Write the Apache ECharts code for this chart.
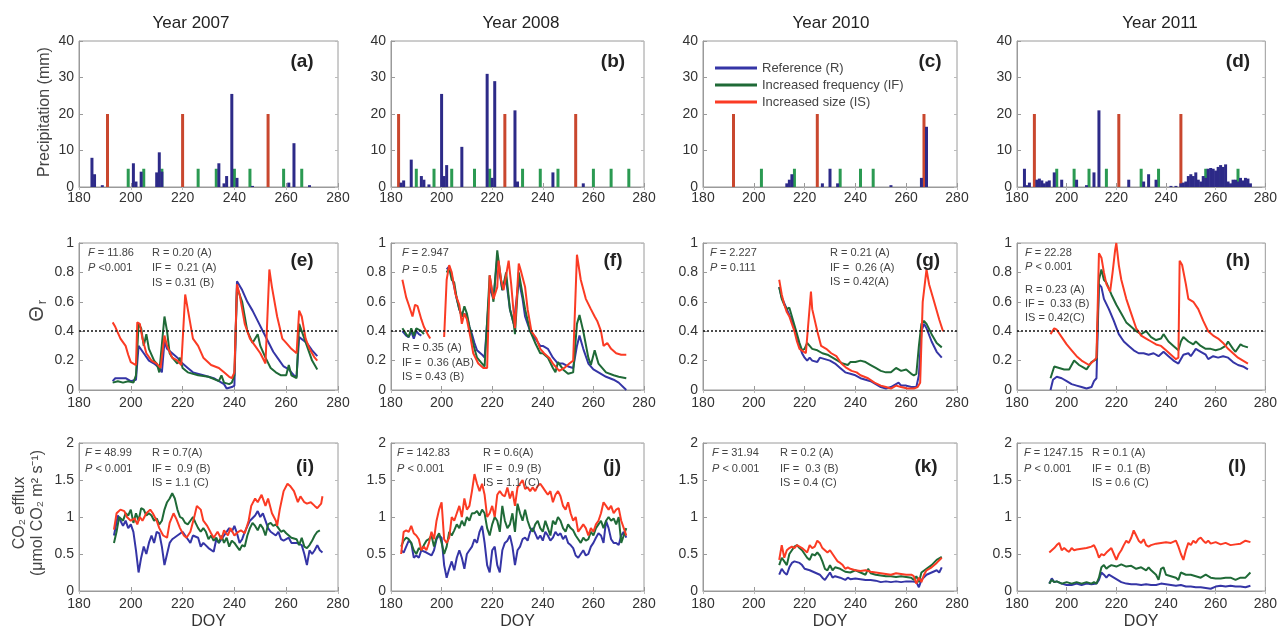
<!DOCTYPE html>
<html>
<head>
<meta charset="utf-8">
<title>Precipitation, relative soil moisture and CO2 efflux</title>
<script src="https://cdn.jsdelivr.net/npm/echarts@6/dist/echarts.min.js"></script>
<style>
  html, body { margin: 0; padding: 0; background: #fff; }
  #chart { width: 1280px; height: 631px; }
</style>
</head>
<body>
<div id="chart"></div>
<script>
// ---- labels ----
const yearLabels = ['Year 2007', 'Year 2008', 'Year 2010', 'Year 2011'];
const panelTags = [['(a)', '(b)', '(c)', '(d)'], ['(e)', '(f)', '(g)', '(h)'], ['(i)', '(j)', '(k)', '(l)']];
const seriesNames = ['Reference (R)', 'Increased frequency (IF)', 'Increased size (IS)'];

// ---- precipitation (mm) by DOY ----
const rainR2007 = [[185,8],[186,3.5],[189,0.5],[201,6.5],[202,1.5],[204,4.2],[210,4],[211,9.5],[212,4.2],[234,6.5],[236,1],[237,3],[239,25.5],[241,2.5],[247,0.3],[261,1.2],[263,12],[269,0.5]];
const rainIF2007 = [[199,5],[205,5],[212,5],[226,5],[233,5],[240,5],[246,5],[259,5],[266,5]];
const rainIS2007 = [[191,20],[220,20],[253,20]];

const rainR2008 = [[184,1.2],[185,1.8],[188,7.5],[192,3],[193,2],[195,0.7],[200,25.5],[201,3],[202,6],[208,11],[218,31],[220,2.5],[221,29],[229,21],[230,1.5],[244,4],[256,1]];
const rainIF2008 = [[190,5],[197,5],[204,5],[213,5],[219,5],[232,5],[239,5],[246,5],[260,5],[267,5],[274,5]];
const rainIS2008 = [[183,20],[225,20],[253,20]];

const rainR2010 = [[213,1],[214,2],[215,3.5],[227,1],[230,5],[233,1],[254,0.5],[266,2.5],[268,16.5]];
const rainIF2010 = [[203,5],[216,5],[234,5],[242,5],[247,5]];
const rainIS2010 = [[192,20],[225,20],[267,20]];

const rainR2011 = [[183,5],[184,0.5],[185,1.2],[188,2],[189,2.3],[190,1.8],[191,1],[192,1.5],[193,1.8],[195,4],[198,2],[204,2],[208,0.5],[211,4],[213,21],[225,2],[231,1.5],[233,3.5],[236,2],[242,0.3],[244,0.3],[246,1],[247,1.2],[248,1.5],[249,3],[250,3.5],[251,3],[252,4],[253,2],[254,1.5],[255,3],[256,2.5],[257,5],[258,5.2],[259,5],[260,4.5],[261,5.5],[262,6],[263,5.5],[264,6.2],[265,1.5],[266,1],[267,2],[268,2],[269,1.5],[270,2.5],[271,1.8],[272,2.5],[273,2.3],[274,1]];
const rainIF2011 = [[196,5],[203,5],[209,5],[216,5],[230,5],[237,5],[256,5],[262,5],[269,5]];
const rainIS2011 = [[187,20],[221,20],[246,20]];

// ---- relative soil moisture (theta r) ----
const thetaR2007 = [[193,0.06],[194,0.08],[196,0.08],[198,0.08],[200,0.06],[202,0.07],[203,0.30],[205,0.25],[207,0.20],[209,0.18],[211,0.15],[212,0.12],[213,0.33],[214,0.28],[216,0.25],[218,0.22],[220,0.18],[222,0.15],[224,0.12],[228,0.10],[232,0.08],[236,0.04],[237,0.01],[239,0.02],[240,0.03],[241,0.74],[243,0.68],[245,0.60],[247,0.54],[249,0.47],[251,0.40],[253,0.33],[255,0.26],[257,0.21],[259,0.16],[261,0.14],[263,0.10],[264,0.09],[265,0.36],[268,0.32],[270,0.27],[272,0.23]];
const thetaIF2007 = [[193,0.05],[195,0.06],[197,0.05],[199,0.06],[201,0.05],[202,0.10],[203,0.45],[204,0.42],[205,0.30],[206,0.38],[207,0.28],[209,0.20],[210,0.18],[211,0.12],[213,0.50],[214,0.40],[215,0.25],[216,0.22],[218,0.18],[219,0.22],[220,0.15],[222,0.12],[226,0.10],[230,0.09],[234,0.06],[235,0.10],[236,0.05],[238,0.04],[239,0.05],[240,0.10],[241,0.70],[243,0.60],[245,0.40],[247,0.32],[249,0.38],[250,0.30],[252,0.22],[254,0.15],[256,0.12],[258,0.10],[260,0.10],[261,0.17],[262,0.10],[264,0.08],[265,0.45],[266,0.40],[268,0.30],[270,0.20],[272,0.14]];
const thetaIS2007 = [[193,0.46],[194,0.43],[196,0.35],[198,0.30],[199,0.24],[200,0.19],[201,0.18],[202,0.17],[202.5,0.46],[203.5,0.45],[204.5,0.35],[206,0.25],[208,0.20],[210,0.18],[211.5,0.15],[213,0.37],[214,0.30],[216,0.22],[218,0.20],[219.5,0.17],[221,0.65],[222,0.55],[224,0.35],[226,0.30],[228,0.22],[231,0.17],[234,0.15],[236,0.12],[238,0.09],[239,0.08],[240,0.12],[241,0.72],[242,0.65],[244,0.45],[246,0.35],[248,0.30],[250,0.25],[252,0.18],[253.5,0.82],[254.5,0.70],[256.5,0.50],[258.5,0.35],[260,0.32],[262,0.28],[264,0.25],[265,0.54],[266,0.50],[267.5,0.35],[269,0.28],[271,0.22],[272,0.20]];

const thetaR2008 = [[184.5,0.40],[186,0.37],[187,0.36],[188,0.40],[189,0.35],[190,0.40],[191,0.38],[192,0.37],[196,'-'],[202,0.82],[203,0.84],[204,0.78],[205,0.70],[206,0.62],[207,0.55],[208,0.50],[209,0.52],[210,0.50],[211,0.43],[212,0.38],[213,0.32],[214,0.27],[216,0.24],[217,0.22],[219,0.70],[220.5,0.62],[222,0.90],[224,0.68],[225.5,0.75],[227,0.55],[228.5,0.45],[230.5,0.75],[232,0.62],[233,0.50],[235,0.40],[237,0.35],[239,0.30],[240,0.30],[242,0.28],[244,0.22],[246,0.18],[248,0.18],[250,0.16],[252,0.15],[253.5,0.30],[254.5,0.37],[256,0.28],[258,0.18],[260,0.14],[262,0.12],[265,0.09],[268,0.07],[270,0.05],[273,0.00]];
const thetaIF2008 = [[184.5,0.42],[186,0.38],[187,0.36],[188,0.42],[189,0.37],[190,0.42],[192,0.40],[193,0.38],[196,'-'],[202,0.80],[203,0.83],[204,0.75],[205,0.73],[206,0.62],[207,0.55],[208,0.50],[209,0.57],[210,0.52],[211,0.43],[212,0.35],[213,0.28],[214,0.22],[216,0.18],[217,0.16],[219,0.78],[220.5,0.60],[222,0.95],[224,0.68],[225.5,0.80],[227,0.55],[228.5,0.45],[229,0.38],[230.5,0.80],[232,0.65],[233,0.55],[235,0.40],[237,0.32],[239,0.25],[240,0.25],[242,0.22],[244,0.15],[245,0.12],[246,0.19],[248,0.14],[250,0.11],[252,0.12],[253.5,0.45],[254.5,0.51],[256,0.40],[258,0.22],[259,0.17],[260.5,0.27],[262,0.18],[265,0.12],[268,0.10],[270,0.09],[273,0.08]];
const thetaIS2008 = [[184.5,0.75],[186,0.63],[187,0.58],[188.5,0.50],[189.5,0.58],[190.5,0.57],[192,0.48],[193,0.43],[194.5,0.38],[195.5,0.35],[198,'-'],[201,0.36],[202,0.75],[203,0.85],[204,0.80],[205.5,0.65],[207,0.58],[208,0.45],[209,0.52],[210,0.48],[211.5,0.35],[212.5,0.25],[214.5,0.18],[216.5,0.15],[218,0.15],[219,0.78],[220.5,0.62],[222,0.70],[222.5,0.88],[223.5,0.75],[224.5,0.68],[226.5,0.88],[227.5,0.72],[229,0.42],[230.5,0.86],[231.5,0.80],[233,0.70],[234,0.55],[235.5,0.40],[237.5,0.35],[239,0.28],[240.5,0.25],[242.5,0.22],[244,0.18],[246.5,0.13],[248.5,0.15],[250.5,0.18],[252,0.20],[253.5,0.92],[255,0.75],[257,0.62],[259,0.55],[260.5,0.50],[261.5,0.47],[263,0.40],[264,0.30],[265.5,0.32],[267,0.28],[269,0.25],[271,0.24],[273,0.24]];

const thetaR2010 = [[210,0.70],[211,0.63],[213,0.55],[215,0.47],[216,0.42],[217,0.35],[218,0.30],[219,0.25],[220,0.22],[221,0.20],[222,0.22],[223,0.20],[225,0.19],[226,0.22],[228,0.21],[230,0.20],[232,0.18],[234,0.15],[236,0.12],[238,0.11],[240,0.10],[242,0.08],[244,0.07],[246,0.06],[248,0.04],[250,0.02],[252,0.01],[254,0.02],[256,0.04],[257,0.05],[258,0.03],[260,0.03],[262,0.02],[264,0.02],[265,0.10],[266,0.40],[267,0.45],[268,0.42],[270,0.33],[272,0.26],[274,0.22]];
const thetaIF2010 = [[210,0.70],[211,0.62],[212,0.58],[213,0.55],[214,0.56],[215,0.50],[216,0.44],[217,0.38],[218,0.32],[219,0.27],[220,0.28],[221,0.32],[222,0.30],[223,0.28],[225,0.27],[227,0.25],[229,0.24],[231,0.22],[233,0.20],[235,0.18],[237,0.17],[238,0.19],[240,0.19],[242,0.20],[244,0.19],[246,0.17],[248,0.15],[250,0.13],[252,0.12],[254,0.12],[256,0.15],[258,0.13],[260,0.14],[262,0.11],[263,0.10],[264,0.11],[265,0.30],[266,0.45],[267,0.47],[268,0.45],[270,0.38],[272,0.32],[274,0.29]];
const thetaIS2010 = [[210,0.75],[211,0.65],[212,0.58],[213,0.53],[214,0.50],[215,0.45],[216,0.40],[217,0.33],[218,0.28],[220.5,0.25],[222.5,0.67],[223,0.55],[225,0.40],[226.5,0.30],[228.5,0.28],[230.5,0.25],[232.5,0.23],[234.5,0.18],[236.5,0.15],[238.5,0.13],[240.5,0.12],[242,0.10],[245,0.08],[247.5,0.05],[250,0.03],[252,0.02],[254,0.01],[256,0.03],[258,0.02],[260.5,0.01],[263,0.01],[264.5,0.02],[265.5,0.05],[266.5,0.60],[268,0.82],[269,0.72],[271,0.60],[273,0.48],[274.5,0.40]];

const thetaR2011 = [[193.5,0.00],[194.5,0.07],[196,0.09],[198,0.08],[200,0.06],[202,0.04],[204,0.03],[206,0.02],[208,0.01],[210,0.02],[211,0.06],[212,0.08],[213,0.72],[214,0.70],[215,0.62],[217,0.55],[219,0.47],[221,0.38],[223,0.33],[225,0.30],[227,0.27],[229,0.25],[231,0.25],[233,0.24],[235,0.25],[237,0.23],[239,0.26],[241,0.23],[243,0.20],[245,0.18],[247,0.24],[249,0.25],[250,0.23],[252,0.28],[254,0.26],[256,0.24],[257,0.21],[259,0.23],[261,0.22],[263,0.23],[265,0.22],[267,0.19],[269,0.17],[271,0.16],[273,0.14]];
const thetaIF2011 = [[193.5,0.08],[195,0.16],[197,0.15],[199,0.14],[201,0.14],[203,0.20],[205,0.17],[207,0.15],[208,0.14],[210,0.19],[212,0.21],[213,0.75],[214,0.82],[215,0.75],[216,0.73],[218,0.65],[220,0.58],[222,0.52],[224,0.46],[226,0.43],[228,0.40],[230,0.38],[232,0.40],[234,0.36],[236,0.34],[238,0.35],[239,0.38],[241,0.33],[243,0.30],[245,0.27],[246,0.33],[247,0.36],[249,0.33],[251,0.31],[252,0.33],[254,0.30],[256,0.28],[258,0.28],[260,0.27],[262,0.28],[264,0.30],[265,0.33],[267,0.28],[268,0.26],[270,0.31],[271,0.30],[273,0.29]];
const thetaIS2011 = [[193.5,0.38],[195,0.42],[196,0.41],[198,0.36],[200,0.31],[202,0.27],[204,0.23],[206,0.20],[209,0.17],[211,0.20],[212,0.22],[213,0.93],[214,0.90],[215,0.80],[216,0.72],[217.5,0.67],[218.5,0.80],[219.5,0.95],[220,1.0],[221,0.85],[222,0.75],[224,0.62],[226,0.52],[228,0.42],[230,0.37],[232,0.35],[234,0.33],[236,0.31],[238,0.30],[240,0.27],[242,0.24],[244,0.21],[245,0.22],[245.5,0.88],[246.5,0.85],[248,0.72],[249,0.62],[251,0.60],[253,0.55],[255,0.47],[257,0.40],[259,0.37],[261,0.35],[263,0.32],[265,0.28],[267,0.25],[269,0.22],[271,0.20],[273,0.18]];

// ---- CO2 efflux (umol CO2 m-2 s-1) ----
const co2R2007 = [[193.5,0.75],[195,1.02],[196,0.95],[197,0.88],[198,0.95],[199,0.85],[200,0.90],[201,0.80],[202,0.55],[203,0.25],[204,0.45],[205,0.60],[206,0.50],[207,0.65],[208,0.75],[209,0.65],[210,0.80],[211,0.78],[212,0.60],[213,0.35],[214,0.50],[215,0.65],[216,0.70],[218,0.75],[220,0.80],[222,0.70],[223,0.65],[224,0.75],[226,0.72],[227,0.60],[228,0.65],[230,0.58],[232,0.53],[233,0.70],[234,0.65],[236,0.75],[238,0.85],[239,0.80],[240,0.88],[241,0.78],[242,0.65],[243,0.70],[244,0.80],[246,0.95],[248,1.02],[249,1.08],[250,1.0],[251,1.05],[252,0.95],[253,0.85],[254,0.80],[256,0.75],[257,0.80],[258,0.70],[259,0.68],[261,0.72],[262,0.65],[264,0.65],[266,0.62],[267,0.50],[268,0.35],[269,0.55],[270,0.50],[271,0.55],[272,0.62],[273,0.55],[274,0.52]];
const co2IF2007 = [[193.5,0.65],[194.5,0.80],[195.5,1.0],[197,0.95],[198,1.05],[199,1.02],[200,1.10],[201,0.92],[202,1.05],[203,0.95],[204,1.12],[205,1.10],[206,1.02],[207,1.05],[208,1.02],[209,0.95],[210,0.98],[211,0.90],[212,0.95],[213,1.10],[214,1.20],[215,1.25],[216,1.32],[217,1.25],[218,1.10],[219,1.0],[220,0.98],[221,0.92],[222,0.90],[223,0.95],[224,1.0],[225,0.92],[226,0.85],[227,0.80],[228,0.85],[229,0.80],[230,0.70],[231,0.75],[232,0.68],[233,0.72],[234,0.65],[235,0.75],[236,0.65],[237,0.72],[238,0.60],[239,0.68],[240,0.65],[241,0.60],[242,0.55],[243,0.62],[244,0.60],[245,0.75],[246,0.85],[247,0.92],[248,0.88],[249,0.82],[250,0.90],[251,0.85],[252,0.75],[253,0.90],[254,0.92],[255,0.88],[256,0.90],[257,0.85],[258,0.80],[259,0.82],[260,0.78],[262,0.72],[264,0.70],[265,0.62],[266,0.72],[267,0.60],[268,0.58],[269,0.62],[270,0.68],[271,0.75],[272,0.80],[273,0.82]];
const co2IS2007 = [[193.5,0.83],[194.5,1.05],[196,1.10],[197.5,1.08],[198.5,1.00],[200,0.95],[201.5,0.98],[202.5,0.90],[203.5,1.0],[204.5,0.95],[206,1.05],[207.5,1.10],[208.5,1.05],[210,0.95],[211,0.85],[212.5,0.75],[214,0.72],[215,0.92],[216.5,1.05],[217.5,0.98],[219,0.85],[220.5,0.75],[221.5,0.72],[223,0.80],[224.5,1.0],[225.5,1.15],[227,1.10],[228,0.95],[229.5,0.88],[231,0.78],[232,0.72],[233.5,0.80],[235,0.70],[236,0.82],[237.5,0.75],[238.5,0.85],[240,0.75],[241.5,0.80],[242.5,0.82],[244,0.78],[245.5,0.95],[246.5,1.15],[248,1.25],[249,1.20],[250.5,1.30],[252,1.15],[253,1.25],[254.5,1.05],[256,0.95],[256.5,0.88],[257.5,1.10],[259,1.35],[260.5,1.45],[261.5,1.42],[263,1.35],[264.5,1.20],[265.5,1.28],[267,1.20],[268,1.18],[269.5,1.20],[271,1.15],[272,1.12],[273.5,1.18],[274,1.28]];

const co2R2008 = [[184,0.55],[185,0.52],[186,0.60],[187,0.68],[188,0.65],[189,0.45],[190,0.48],[191,0.45],[192,0.55],[194,0.52],[196,0.48],[197,0.55],[198,0.70],[199,0.75],[200,0.72],[201,0.35],[202,0.18],[203,0.30],[204,0.40],[205,0.28],[206,0.45],[207,0.55],[208,0.45],[209,0.30],[210,0.50],[211,0.55],[212,0.60],[213,0.70],[214,0.65],[215,0.80],[216,0.88],[217,0.65],[218,0.35],[219,0.25],[220,0.55],[221,0.60],[222,0.35],[223,0.25],[224,0.55],[225,0.65],[226,0.68],[227,0.75],[228,0.60],[229,0.35],[230,0.55],[231,0.60],[232,0.70],[233,0.72],[234,0.68],[235,0.80],[236,0.85],[237,0.78],[238,0.70],[239,0.75],[240,0.68],[241,0.80],[242,0.75],[243,0.68],[244,0.72],[245,0.80],[246,0.75],[247,0.78],[248,0.70],[249,0.75],[250,0.65],[251,0.62],[252,0.58],[253,0.48],[254,0.45],[255,0.50],[256,0.55],[257,0.48],[258,0.50],[259,0.60],[260,0.65],[261,0.72],[262,0.78],[263,0.75],[264,0.65],[265,0.95],[266,0.85],[267,0.70],[268,0.65],[269,0.65],[270,0.62],[271,0.75],[272,0.80],[273,0.72]];
const co2IF2008 = [[184,0.60],[185,0.68],[186,0.72],[187,0.70],[188,0.65],[189,0.55],[190,0.50],[191,0.58],[192,0.55],[193,0.62],[194,0.68],[195,0.70],[196,0.75],[197,0.60],[198,0.72],[199,0.78],[200,0.65],[201,0.50],[202,0.60],[203,0.80],[204,0.75],[205,0.82],[206,0.90],[207,0.85],[208,0.95],[209,0.88],[210,1.0],[211,0.95],[212,1.05],[213,1.05],[214,1.08],[215,1.02],[216,1.10],[217,1.05],[218,0.85],[219,0.75],[220,0.90],[221,1.0],[222,0.95],[223,0.80],[224,1.15],[225,0.95],[226,0.85],[227,0.90],[228,1.05],[229,0.80],[230,1.18],[231,1.05],[232,0.95],[233,1.10],[234,0.95],[235,0.85],[236,0.80],[237,0.90],[238,0.95],[239,0.85],[240,0.80],[241,0.95],[242,0.85],[243,0.75],[244,0.95],[245,0.90],[246,1.0],[247,0.95],[248,0.85],[249,0.80],[250,0.90],[251,0.85],[252,0.82],[253,0.75],[254,0.70],[255,0.65],[256,0.72],[257,0.68],[258,0.70],[259,0.80],[260,0.75],[261,0.85],[262,0.90],[263,0.95],[264,0.85],[265,0.95],[266,1.0],[267,0.95],[268,0.98],[269,0.90],[270,1.0],[271,0.65],[272,0.75],[273,0.85]];
const co2IS2008 = [[184,0.50],[185,0.80],[186,0.82],[187,0.80],[188,0.88],[189,0.78],[190,0.75],[191,0.70],[192,0.55],[193,0.60],[194,0.55],[195,0.65],[196,0.80],[197,0.70],[198,0.95],[199,1.10],[200,1.20],[201,0.70],[202,0.65],[203,0.72],[204,1.0],[205,0.95],[206,1.05],[207,1.15],[208,1.0],[209,1.25],[210,1.10],[211,1.15],[212,1.35],[213,1.58],[214,1.45],[215,1.35],[216,1.45],[217,1.30],[218,1.0],[219,1.05],[220,1.15],[221,1.0],[222,1.30],[223,1.35],[224,1.30],[225,1.28],[226,1.40],[227,1.25],[228,1.35],[229,1.15],[230,1.40],[231,1.45],[232,1.50],[233,1.38],[234,1.40],[235,1.35],[236,1.40],[237,1.35],[238,1.42],[239,1.45],[240,1.40],[241,1.35],[242,1.30],[243,1.35],[244,1.20],[245,1.30],[246,1.35],[247,1.28],[248,1.15],[249,1.10],[250,1.20],[251,1.05],[252,0.95],[253,1.0],[254,0.80],[255,0.85],[256,0.90],[257,0.85],[258,0.75],[259,0.85],[260,0.80],[261,0.90],[262,0.95],[263,1.05],[264,1.20],[265,1.15],[266,1.10],[267,1.15],[268,1.05],[269,1.10],[270,1.12],[271,0.95],[272,0.85],[273,0.75]];

const co2R2010 = [[210,0.22],[211,0.30],[212,0.25],[213,0.22],[214,0.32],[215,0.38],[216,0.40],[218,0.38],[219,0.35],[220,0.30],[222,0.28],[224,0.25],[226,0.22],[227,0.18],[228,0.15],[229,0.20],[230,0.25],[231,0.18],[232,0.20],[234,0.18],[236,0.15],[237,0.18],[238,0.16],[240,0.17],[242,0.16],[244,0.15],[246,0.15],[248,0.14],[250,0.12],[252,0.13],[254,0.12],[256,0.13],[258,0.12],[260,0.13],[262,0.13],[264,0.12],[265,0.05],[266,0.15],[268,0.22],[270,0.25],[272,0.28],[273,0.25],[274,0.32]];
const co2IF2010 = [[210,0.35],[211,0.45],[212,0.40],[213,0.35],[214,0.50],[215,0.55],[216,0.60],[217,0.62],[218,0.58],[219,0.55],[220,0.50],[221,0.45],[222,0.42],[223,0.50],[224,0.48],[225,0.52],[226,0.48],[227,0.40],[228,0.30],[229,0.28],[230,0.35],[231,0.28],[232,0.32],[234,0.30],[236,0.26],[238,0.25],[240,0.28],[242,0.25],[244,0.22],[245,0.30],[246,0.24],[248,0.22],[250,0.21],[252,0.20],[254,0.20],[256,0.19],[258,0.20],[260,0.19],[262,0.18],[263,0.15],[264,0.20],[265,0.12],[266,0.25],[268,0.30],[270,0.35],[272,0.42],[274,0.46]];
const co2IS2010 = [[210,0.42],[211,0.62],[212,0.45],[213,0.55],[214,0.58],[215,0.60],[216,0.58],[217,0.62],[218,0.60],[219,0.58],[220,0.55],[221,0.52],[222,0.62],[223,0.58],[224,0.60],[225,0.68],[226,0.65],[227,0.58],[228,0.55],[229,0.52],[230,0.55],[231,0.50],[232,0.45],[233,0.40],[234,0.38],[235,0.35],[236,0.30],[237,0.32],[238,0.30],[240,0.28],[242,0.27],[244,0.28],[246,0.26],[248,0.25],[250,0.24],[252,0.23],[254,0.22],[256,0.24],[258,0.23],[260,0.22],[262,0.22],[263,0.20],[264,0.10],[265,0.18],[266,0.12],[267,0.22],[268,0.28],[270,0.32],[272,0.38],[274,0.45]];

const co2R2011 = [[193,0.10],[194,0.17],[195,0.12],[196,0.13],[198,0.10],[200,0.08],[202,0.08],[204,0.10],[206,0.08],[208,0.10],[210,0.09],[212,0.10],[213,0.15],[214,0.25],[215,0.22],[216,0.18],[217,0.22],[218,0.20],[220,0.16],[222,0.12],[224,0.10],[226,0.09],[228,0.09],[230,0.08],[232,0.09],[234,0.08],[236,0.08],[238,0.10],[240,0.09],[242,0.08],[244,0.07],[246,0.08],[248,0.06],[250,0.06],[252,0.05],[254,0.05],[256,0.04],[258,0.03],[260,0.06],[262,0.07],[264,0.06],[266,0.07],[268,0.06],[270,0.06],[272,0.05],[274,0.07]];
const co2IF2011 = [[193,0.10],[194,0.15],[195,0.12],[196,0.13],[198,0.10],[200,0.12],[202,0.10],[204,0.12],[206,0.10],[208,0.12],[210,0.10],[211,0.12],[212,0.10],[213,0.18],[214,0.32],[215,0.35],[216,0.30],[217,0.33],[218,0.35],[220,0.33],[222,0.36],[224,0.33],[226,0.34],[228,0.30],[230,0.32],[232,0.28],[233,0.32],[234,0.28],[236,0.22],[237,0.15],[238,0.30],[239,0.32],[240,0.22],[242,0.20],[244,0.18],[245,0.15],[246,0.25],[248,0.22],[250,0.22],[252,0.20],[254,0.18],[256,0.22],[258,0.18],[260,0.17],[262,0.17],[264,0.18],[266,0.18],[268,0.15],[270,0.18],[272,0.18],[274,0.25]];
const co2IS2011 = [[193,0.52],[194,0.55],[195,0.58],[196,0.62],[197,0.65],[198,0.55],[199,0.58],[200,0.55],[201,0.53],[202,0.58],[203,0.55],[204,0.56],[206,0.57],[208,0.58],[210,0.60],[211,0.62],[212,0.55],[213,0.45],[214,0.50],[215,0.48],[216,0.52],[217,0.55],[218,0.58],[219,0.50],[220,0.42],[221,0.50],[222,0.55],[223,0.62],[224,0.68],[225,0.65],[226,0.72],[227,0.82],[228,0.75],[229,0.68],[230,0.65],[231,0.70],[232,0.62],[233,0.60],[234,0.62],[236,0.64],[238,0.65],[240,0.66],[242,0.65],[244,0.68],[245,0.60],[246,0.50],[247,0.42],[248,0.55],[249,0.65],[250,0.62],[251,0.68],[252,0.65],[253,0.70],[254,0.72],[255,0.68],[256,0.65],[257,0.68],[258,0.64],[260,0.66],[262,0.63],[264,0.65],[266,0.62],[268,0.63],[270,0.64],[272,0.68],[274,0.66]];

const rainData = [
  [rainR2007, rainIF2007, rainIS2007], [rainR2008, rainIF2008, rainIS2008],
  [rainR2010, rainIF2010, rainIS2010], [rainR2011, rainIF2011, rainIS2011]
];
const thetaData = [
  [thetaR2007, thetaIF2007, thetaIS2007], [thetaR2008, thetaIF2008, thetaIS2008],
  [thetaR2010, thetaIF2010, thetaIS2010], [thetaR2011, thetaIF2011, thetaIS2011]
];
const co2Data = [
  [co2R2007, co2IF2007, co2IS2007], [co2R2008, co2IF2008, co2IS2008],
  [co2R2010, co2IF2010, co2IS2010], [co2R2011, co2IF2011, co2IS2011]
];
const thetaThreshold = 0.4;

// statistics printed in the panels
const thetaStats = [
  { f: '11.86', p: '<0.001', groups: ['R = 0.20 (A)', 'IF =  0.21 (A)', 'IS = 0.31 (B)'] },
  { f: '2.947', p: '= 0.5', groups: ['R = 0.35 (A)', 'IF =  0.36 (AB)', 'IS = 0.43 (B)'] },
  { f: '2.227', p: '= 0.111', groups: ['R = 0.21 (A)', 'IF =  0.26 (A)', 'IS = 0.42(A)'] },
  { f: '22.28', p: '< 0.001', groups: ['R = 0.23 (A)', 'IF =  0.33 (B)', 'IS = 0.42(C)'] }
];
const co2Stats = [
  { f: '48.99', p: '< 0.001', groups: ['R = 0.7(A)', 'IF =  0.9 (B)', 'IS = 1.1 (C)'] },
  { f: '142.83', p: '< 0.001', groups: ['R = 0.6(A)', 'IF =  0.9 (B)', 'IS = 1.1 (C)'] },
  { f: '31.94', p: '< 0.001', groups: ['R = 0.2 (A)', 'IF =  0.3 (B)', 'IS = 0.4 (C)'] },
  { f: '1247.15', p: '< 0.001', groups: ['R = 0.1 (A)', 'IF =  0.1 (B)', 'IS = 0.6 (C)'] }
];

// ---- layout & style ----
const FONT = 'Liberation Sans, Arial, Helvetica, sans-serif';
const lineColors = ['#3535a6', '#1f6a37', '#fb3b24'];
const barColors = ['#2d2a88', '#2b9a52', '#c9472e'];
const axisGray = '#9a9a9a';
const colLeft = [79, 391, 703, 1017];
const colWidth = [259, 253, 254, 255];
const rowTop = [41, 243, 443];
const rowHeight = [146, 147, 149];
const yMax = [40, 1, 2];
const yStep = [10, 0.2, 0.5];

const grids = [], xAxes = [], yAxes = [], series = [], graphics = [];
const mirrorX = [], mirrorY = [];

for (let r = 0; r < 3; r++) {
  for (let c = 0; c < 4; c++) {
    const i = r * 4 + c;
    grids.push({
      left: colLeft[c], top: rowTop[r], width: colWidth[c], height: rowHeight[r],
      show: true, borderColor: axisGray, borderWidth: 1, backgroundColor: 'transparent'
    });
    xAxes.push({
      gridIndex: i, type: 'value', min: 180, max: 280, interval: 20,
      axisLine: { show: true, onZero: false, lineStyle: { color: axisGray } },
      axisTick: { show: true, inside: true, length: 4, lineStyle: { color: axisGray } },
      axisLabel: { color: '#333', fontSize: 14, fontFamily: FONT, margin: r === 0 ? 4 : 6 },
      splitLine: { show: false },
      name: r === 2 ? 'DOY' : '', nameLocation: 'middle', nameGap: 23,
      nameTextStyle: { fontSize: 16, color: '#333', fontFamily: FONT }
    });
    yAxes.push({
      gridIndex: i, type: 'value', min: 0, max: yMax[r], interval: yStep[r],
      axisLine: { show: true, lineStyle: { color: axisGray } },
      axisTick: { show: true, inside: true, length: 4, lineStyle: { color: axisGray } },
      axisLabel: { color: '#333', fontSize: 14, fontFamily: FONT, margin: 5 },
      splitLine: { show: false }
    });
    // box ticks on the top and right edges
    mirrorX.push({
      gridIndex: i, type: 'value', position: 'top', min: 180, max: 280, interval: 20,
      axisLine: { show: false }, axisLabel: { show: false }, splitLine: { show: false },
      axisTick: { show: true, inside: true, length: 3, lineStyle: { color: '#bbb' } }
    });
    mirrorY.push({
      gridIndex: i, type: 'value', position: 'right', min: 0, max: yMax[r], interval: yStep[r],
      axisLine: { show: false }, axisLabel: { show: false }, splitLine: { show: false },
      axisTick: { show: true, inside: true, length: 3, lineStyle: { color: '#bbb' } }
    });

    for (let k = 0; k < 3; k++) {
      if (r === 0) {
        series.push({
          type: 'bar', name: seriesNames[k], xAxisIndex: i, yAxisIndex: i,
          data: rainData[c][k], barWidth: 3, barGap: '-100%',
          itemStyle: { color: barColors[k] }, z: k === 0 ? 4 : 2
        });
      } else {
        const s = {
          type: 'line', name: seriesNames[k], xAxisIndex: i, yAxisIndex: i,
          data: (r === 1 ? thetaData : co2Data)[c][k],
          showSymbol: false, symbol: 'none', connectNulls: false,
          lineStyle: { color: lineColors[k], width: 2 },
          itemStyle: { color: lineColors[k] }, z: 2 + k
        };
        if (r === 1 && k === 0) {
          s.markLine = {
            silent: true, symbol: ['none', 'none'], label: { show: false },
            lineStyle: { color: '#111', type: [2, 2], width: 1.5 },
            data: [{ yAxis: thetaThreshold }]
          };
        }
        series.push(s);
      }
    }

    // panel tag
    const tagX = [[302, 613, 930, 1238], [302, 613, 928, 1238], [305, 612, 926, 1237]][r][c];
    const tagY = [62, 261, 467][r];
    graphics.push({
      type: 'text', x: tagX, y: tagY, z: 50,
      style: { text: panelTags[r][c], fontSize: 19, fontWeight: 'bold', fontFamily: FONT, fill: '#222',
               align: 'center', verticalAlign: 'middle', textAlign: 'center', textVerticalAlign: 'middle' }
    });
  }
}

// year titles
const titleX = [191, 521, 831, 1160];
yearLabels.forEach((t, c) => {
  graphics.push({
    type: 'text', x: titleX[c], y: 23,
    style: { text: t, fontSize: 17, fontFamily: FONT, fill: '#222',
             align: 'center', verticalAlign: 'middle', textAlign: 'center', textVerticalAlign: 'middle' }
  });
});

// statistics text
function statText(x, y, text) {
  graphics.push({
    type: 'text', x: x, y: y, z: 50,
    style: {
      text: text, fontSize: 11, fontFamily: FONT, fill: '#444',
      align: 'left', verticalAlign: 'middle', textAlign: 'left', textVerticalAlign: 'middle',
      rich: { i: { fontStyle: 'italic', fontSize: 11, fontFamily: FONT, fill: '#444' } }
    }
  });
}
const thetaFx = [88, 402, 710, 1025];
const thetaGx = [152, 402, 830, 1025];
const thetaGy = [[253, 268, 283], [348, 363, 377], [253, 268, 282], [290, 304, 318]];
const thetaPy = [268, 270, 268, 267];
thetaStats.forEach((s, c) => {
  statText(thetaFx[c], 253, '{i|F} = ' + s.f);
  statText(thetaFx[c], thetaPy[c], '{i|P} ' + s.p);
  s.groups.forEach((g, j) => statText(thetaGx[c], thetaGy[c][j], g));
});
const co2Fx = [85, 397, 712, 1024];
const co2Gx = [152, 483, 780, 1092];
co2Stats.forEach((s, c) => {
  statText(co2Fx[c], 453, '{i|F} = ' + s.f);
  statText(co2Fx[c], 469, '{i|P} ' + s.p);
  s.groups.forEach((g, j) => statText(co2Gx[c], [453, 469, 483][j], g));
});

// y-axis titles
function vText(x, y, text, size) {
  graphics.push({
    type: 'text', x: x, y: y, rotation: Math.PI / 2,
    style: { text: text, fontSize: size, fontFamily: FONT, fill: '#444',
             align: 'center', verticalAlign: 'middle', textAlign: 'center', textVerticalAlign: 'middle' }
  });
}
vText(45, 112, 'Precipitation (mm)', 16);
vText(37, 314, 'Θ', 20);
vText(42, 302, 'r', 13);
vText(20, 513, 'CO₂ efflux', 16);
vText(38, 513, '(μmol CO₂ m² s⁻¹)', 16);

const chart = echarts.init(document.getElementById('chart'));
chart.setOption({
  animation: false,
  backgroundColor: '#fff',
  grid: grids,
  xAxis: xAxes.concat(mirrorX),
  yAxis: yAxes.concat(mirrorY),
  legend: {
    left: 710, top: 56, orient: 'vertical', itemWidth: 42, itemHeight: 3, itemGap: 3,
    icon: 'rect', selectedMode: false,
    textStyle: { fontSize: 13, color: '#444', fontFamily: FONT, lineHeight: 14 },
    data: seriesNames.map((n, k) => ({ name: n, icon: 'rect', itemStyle: { color: lineColors[k] } }))
  },
  series: series,
  graphic: graphics
});
</script>
</body>
</html>
